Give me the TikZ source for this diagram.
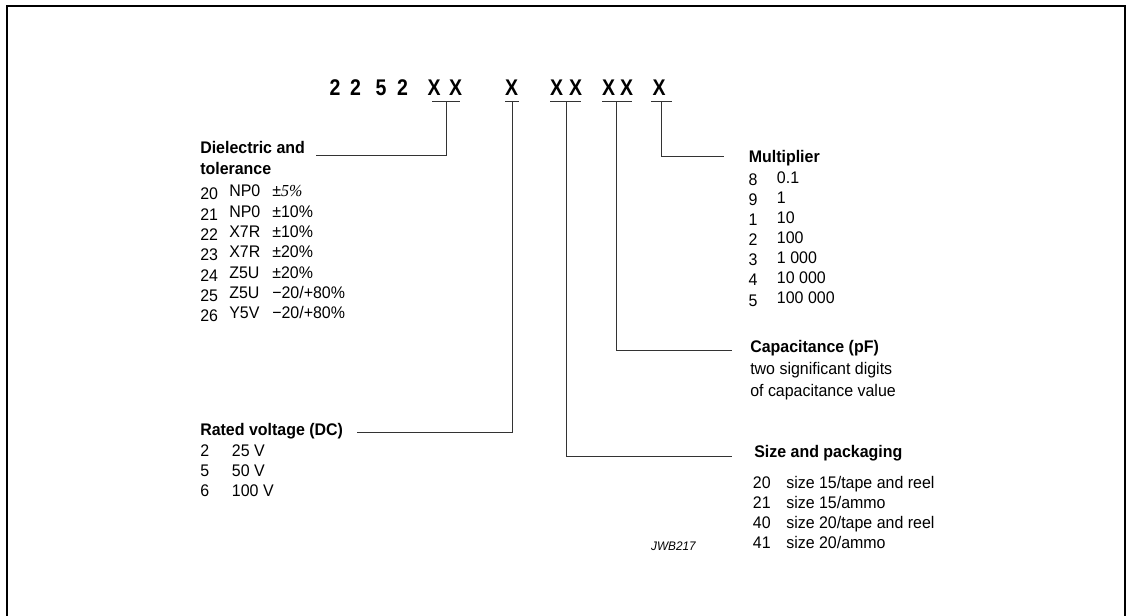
\documentclass[tikz,border=0pt]{standalone}
\usepackage{fontspec}
\setmainfont{Liberation Sans}[FakeStretch=0.95]
\newfontfamily\codefont{Liberation Sans}[FakeStretch=0.86]
\newfontfamily\seriffont{Liberation Serif}[FakeStretch=0.95]
\begin{document}
\begin{tikzpicture}[x=0.75pt,y=-0.75pt,
  txt/.style={anchor=base west,inner sep=0pt,font=\fontsize{12.6}{15}\selectfont},
  hd/.style={anchor=base west,inner sep=0pt,font=\fontsize{12.6}{15}\selectfont\bfseries},
  codech/.style={anchor=base,inner sep=0pt,font=\codefont\fontsize{17}{20}\selectfont\bfseries},
  tag/.style={anchor=base east,inner sep=0pt,font=\fontsize{9.3}{11}\selectfont\itshape},
  ln/.style={line width=0.75pt,draw=black!80},
  frameline/.style={line width=1.5pt,draw=black}
]
\useasboundingbox (0,0) rectangle (1126,616);
\draw[frameline] (7,616) -- (7,6) -- (1125,6) -- (1125,616);

% type code
\node[codech] (c1) at (335,96) {2};
\node[codech] (c2) at (355.5,96) {2};
\node[codech] (c3) at (381,96) {5};
\node[codech] (c4) at (402.5,96) {2};
\node[codech] (c5) at (434,96) {X};
\node[codech] (c6) at (455.5,96) {X};
\node[codech] (c7) at (511.5,96) {X};
\node[codech] (c8) at (556.5,96) {X};
\node[codech] (c9) at (575.5,96) {X};
\node[codech] (c10) at (608.5,96) {X};
\node[codech] (c11) at (626.5,96) {X};
\node[codech] (c12) at (659,96) {X};

% underlines
\coordinate (u1a) at (432,102); \coordinate (u1b) at (460,102);
\coordinate (u2a) at (505,102); \coordinate (u2b) at (519,102);
\coordinate (u3a) at (550,102); \coordinate (u3b) at (581,102);
\coordinate (u4a) at (602,102); \coordinate (u4b) at (632,102);
\coordinate (u5a) at (651,102); \coordinate (u5b) at (672,102);
\draw[ln] (u1a) -- (u1b);
\draw[ln] (u2a) -- (u2b);
\draw[ln] (u3a) -- (u3b);
\draw[ln] (u4a) -- (u4b);
\draw[ln] (u5a) -- (u5b);

\coordinate (t1) at (446,102);
\coordinate (t2) at (512,102);
\coordinate (t3) at (566,102);
\coordinate (t4) at (616,102);
\coordinate (t5) at (661,102);
\coordinate (e1) at (316,156);
\coordinate (e2) at (357,432);
\coordinate (e3) at (732,456);
\coordinate (e4) at (732,350);
\coordinate (e5) at (724,157);
\draw[ln] (t1) |- (e1);
\draw[ln] (t2) |- (e2);
\draw[ln] (t3) |- (e3);
\draw[ln] (t4) |- (e4);
\draw[ln] (t5) |- (e5);

% Dielectric and tolerance
\node[hd] (dh1) at (200,154) {Dielectric and};
\node[hd] (dh2) at (200,175) {tolerance};
\node[txt] (dn1) at (200,200) {20};
\node[txt] (dm1) at (229,197) {NP0};
\node[txt] (dt1) at (272,197) {±{\seriffont\itshape 5\%}};
\node[txt] (dn2) at (200,220.3) {21};
\node[txt] (dm2) at (229,217.3) {NP0};
\node[txt] (dt2) at (272,217.3) {±10\%};
\node[txt] (dn3) at (200,240.6) {22};
\node[txt] (dm3) at (229,237.6) {X7R};
\node[txt] (dt3) at (272,237.6) {±10\%};
\node[txt] (dn4) at (200,260.9) {23};
\node[txt] (dm4) at (229,257.9) {X7R};
\node[txt] (dt4) at (272,257.9) {±20\%};
\node[txt] (dn5) at (200,281.2) {24};
\node[txt] (dm5) at (229,278.2) {Z5U};
\node[txt] (dt5) at (272,278.2) {±20\%};
\node[txt] (dn6) at (200,301.5) {25};
\node[txt] (dm6) at (229,298.5) {Z5U};
\node[txt] (dt6) at (272,298.5) {−20/+80\%};
\node[txt] (dn7) at (200,321.8) {26};
\node[txt] (dm7) at (229,318.8) {Y5V};
\node[txt] (dt7) at (272,318.8) {−20/+80\%};

% Rated voltage
\node[hd] (vh) at (200,435) {Rated voltage (DC)};
\node[txt] (vn1) at (200,456.7) {2};
\node[txt] (vv1) at (231.7,456.7) {25 V};
\node[txt] (vn2) at (200,476.7) {5};
\node[txt] (vv2) at (231.7,476.7) {50 V};
\node[txt] (vn3) at (200,496.7) {6};
\node[txt] (vv3) at (231.7,496.7) {100 V};

% Multiplier
\node[hd] (mh) at (748.5,162.3) {Multiplier};
\node[txt] (mn1) at (748.3,186) {8};
\node[txt] (mv1) at (776.7,183.3) {0.1};
\node[txt] (mn2) at (748.3,206) {9};
\node[txt] (mv2) at (776.7,203.3) {1};
\node[txt] (mn3) at (748.3,226) {1};
\node[txt] (mv3) at (776.7,223.3) {10};
\node[txt] (mn4) at (748.3,246) {2};
\node[txt] (mv4) at (776.7,243.3) {100};
\node[txt] (mn5) at (748.3,266) {3};
\node[txt] (mv5) at (776.7,263.3) {1 000};
\node[txt] (mn6) at (748.3,286) {4};
\node[txt] (mv6) at (776.7,283.3) {10 000};
\node[txt] (mn7) at (748.3,306) {5};
\node[txt] (mv7) at (776.7,303.3) {100 000};

% Capacitance
\node[hd] (ch) at (750,352.7) {Capacitance (pF)};
\node[txt] (cl1) at (750,374.5) {two significant digits};
\node[txt] (cl2) at (750,396.5) {of capacitance value};

% Size and packaging
\node[hd] (sh) at (754,457) {Size and packaging};
\node[txt] (sn1) at (752.7,488.3) {20};
\node[txt] (sv1) at (786,488.3) {size 15/tape and reel};
\node[txt] (sn2) at (752.7,508.3) {21};
\node[txt] (sv2) at (786,508.3) {size 15/ammo};
\node[txt] (sn3) at (752.7,528.3) {40};
\node[txt] (sv3) at (786,528.3) {size 20/tape and reel};
\node[txt] (sn4) at (752.7,548.3) {41};
\node[txt] (sv4) at (786,548.3) {size 20/ammo};

\node[tag] (jwb) at (696,550) {JWB217};
\end{tikzpicture}
\end{document}
